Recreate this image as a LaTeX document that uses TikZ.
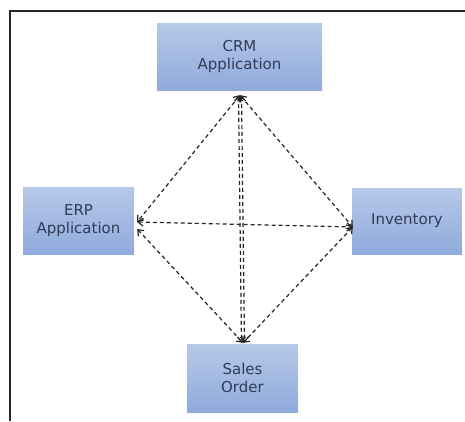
\documentclass[tikz,border=0pt]{standalone}
\usepackage{fontspec}
\setmainfont{DejaVu Sans}
\usetikzlibrary{arrows.meta}
\definecolor{boxtop}{HTML}{B7C9E8}
\definecolor{boxbot}{HTML}{8FAADC}
\definecolor{txt}{HTML}{2F3B57}
\definecolor{ln}{HTML}{262626}
\newcommand\boxfont{\fontsize{15pt}{18pt}\selectfont}
\begin{document}
\begin{tikzpicture}[x=1pt,y=1pt,
  sysbox/.style={rectangle, top color=boxtop, bottom color=boxbot, draw=none,
    text=txt, align=center, font=\boxfont, inner sep=0pt},
  link/.style={draw=ln, line width=1.2pt, dash pattern=on 4pt off 3pt,
    {Straight Barb[length=5pt,width=8pt]}-{Straight Barb[length=5pt,width=8pt]}}]
\useasboundingbox (0,0) rectangle (465,-421);
\draw[line width=1.4pt, black!85] (10,-421) -- (10,-11) -- (465,-11);

\node[sysbox, minimum width=165pt, minimum height=67pt] (crm) at (239.5,-56.5) {CRM\\Application};
\node[sysbox, minimum width=111pt, minimum height=67pt] (erp) at (78.5,-220.5) {ERP\\Application};
\node[sysbox, minimum width=110pt, minimum height=66pt] (inv) at (407,-221) {Inventory};
\node[sysbox, minimum width=111pt, minimum height=68pt] (sal) at (242.5,-378) {Sales\\Order};

\coordinate (crmA) at ([xshift=0.5pt,yshift=-5pt]crm.south);
\coordinate (crmB) at ([xshift=-1pt,yshift=-5pt]crm.south);
\coordinate (crmC) at ([xshift=2pt,yshift=-5pt]crm.south);
\coordinate (erpA) at ([xshift=3pt,yshift=-1.5pt]erp.east);
\coordinate (erpB) at ([xshift=3pt,yshift=-8.5pt]erp.east);
\coordinate (invA) at ([xshift=1pt,yshift=-6pt]inv.west);
\coordinate (salA) at ([xshift=0.5pt,yshift=1pt]sal.north);
\coordinate (salB) at ([xshift=-1pt,yshift=1pt]sal.north);
\coordinate (salC) at ([xshift=2pt,yshift=1pt]sal.north);

\draw[link] (crmA) -- (erpA);
\draw[link] (crmA) -- (invA);
\draw[link] (crmB) -- (salB);
\draw[link] (crmC) -- (salC);
\draw[link] (erpA) -- (invA);
\draw[link] (erpB) -- (salA);
\draw[link] (invA) -- (salA);
\end{tikzpicture}
\end{document}
